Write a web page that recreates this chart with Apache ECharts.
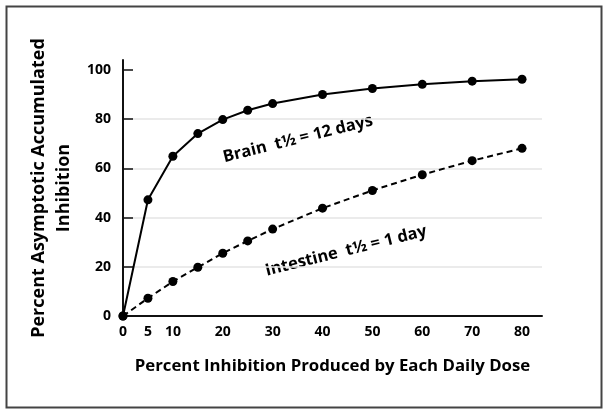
<!DOCTYPE html>
<html><head><meta charset="utf-8">
<script src="https://cdn.jsdelivr.net/npm/echarts@6/dist/echarts.min.js"></script>
<style>html,body{margin:0;padding:0;background:#fff}#c{width:604px;height:411px}</style>
</head><body><div id="c"></div>
<script>
const xValues = [0, 5, 10, 15, 20, 25, 30, 40, 50, 60, 70, 80];
const brain = [0, 47.2, 64.9, 74.1, 79.8, 83.6, 86.3, 90.0, 92.4, 94.1, 95.4, 96.2];
const intestine = [0, 7.2, 14.0, 19.8, 25.5, 30.5, 35.3, 43.8, 51.0, 57.4, 63.1, 68.1];
const xTickLabels = [0, 5, 10, 20, 30, 40, 50, 60, 70, 80];
const yTickLabels = [0, 20, 40, 60, 80, 100];

const font = 'Open Sans';
const chart = echarts.init(document.getElementById('c'));
chart.setOption({
  animation: false,
  textStyle: { fontFamily: font },
  grid: { left: 123, right: 62, top: 60, bottom: 95 },
  xAxis: {
    type: 'value', min: 0, max: 84,
    name: 'Percent Inhibition Produced by Each Daily Dose',
    nameLocation: 'middle', nameGap: 42,
    nameTextStyle: { fontFamily: font, fontWeight: 'bold', fontSize: 16.8, color: '#000' },
    axisLine: { show: true, lineStyle: { color: '#111', width: 2 } },
    axisTick: { show: false },
    splitLine: { show: false },
    axisLabel: { customValues: xTickLabels, fontFamily: font, fontWeight: 'bold', fontSize: 14, color: '#000', margin: 9 }
  },
  yAxis: {
    type: 'value', min: 0, max: 104, interval: 20,
    name: 'Percent Asymptotic Accumulated\nInhibition',
    nameLocation: 'middle', nameGap: 42,
    nameTextStyle: { fontFamily: font, fontWeight: 'bold', fontSize: 18, color: '#000', lineHeight: 25 },
    axisLine: { show: true, lineStyle: { color: '#111', width: 2 } },
    axisTick: { show: true, inside: true, length: 10, customValues: yTickLabels, lineStyle: { color: '#111', width: 1.5 } },
    splitLine: { show: true, showMaxLine: false, lineStyle: { color: '#e4e4e4', width: 1.5 } },
    axisLabel: { customValues: yTickLabels, fontFamily: font, fontWeight: 'bold', fontSize: 14, color: '#000', margin: 12 }
  },
  series: [
    {
      type: 'line', name: 'Brain',
      data: xValues.map((x, i) => [x, brain[i]]),
      symbol: 'circle', symbolSize: 9,
      itemStyle: { color: '#000' },
      lineStyle: { color: '#000', width: 2 }
    },
    {
      type: 'line', name: 'Intestine',
      data: xValues.map((x, i) => [x, intestine[i]]),
      symbol: 'circle', symbolSize: 9,
      itemStyle: { color: '#000' },
      lineStyle: { color: '#000', width: 2, type: [6, 4] }
    }
  ],
  graphic: [
    { type: 'rect', left: 4, top: 4, shape: { width: 595, height: 401 }, style: { fill: 'none', stroke: '#444', lineWidth: 2 }, silent: true },
    { type: 'text', x: 298, y: 139, rotation: 14 * Math.PI / 180,
      style: { text: 'Brain  t\u00BD = 12 days', fontFamily: font, fontWeight: 'bold', fontSize: 16.5, fill: '#000', align: 'center', verticalAlign: 'middle' } },
    { type: 'text', x: 346, y: 251, rotation: 14 * Math.PI / 180,
      style: { text: 'Intestine  t\u00BD = 1 day', fontFamily: font, fontWeight: 'bold', fontSize: 16.5, fill: '#000', align: 'center', verticalAlign: 'middle' } }
  ]
});
</script></body></html>
